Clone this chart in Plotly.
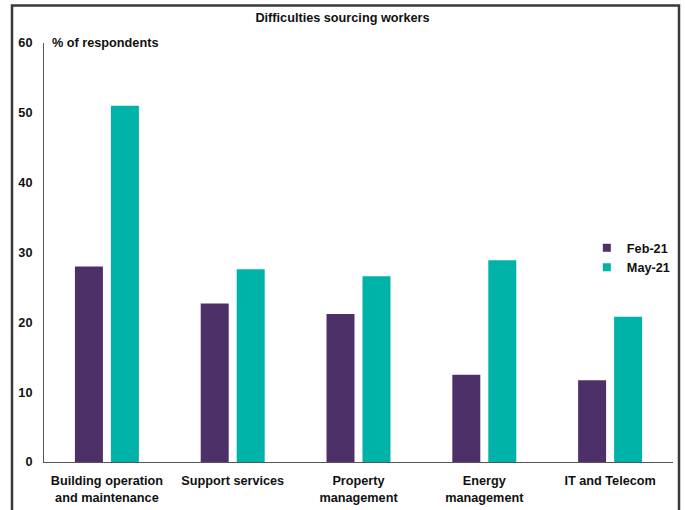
import plotly.graph_objects as go

categories = ["Building operation<br>and maintenance", "Support services",
              "Property<br>management", "Energy<br>management", "IT and Telecom"]
feb21 = [28.0, 22.7, 21.2, 12.5, 11.7]
may21 = [51.0, 27.6, 26.6, 28.9, 20.8]
series_names = ["Feb-21", "May-21"]
colors = ["#4E3068", "#00B3A9"]

FONT = "Liberation Sans, Arial, sans-serif"
FS = 12.7

fig = go.Figure()
for name, vals, col in zip(series_names, [feb21, may21], colors):
    fig.add_trace(go.Bar(x=categories, y=vals, name=name, marker_color=col,
                         marker_line_width=0, showlegend=False))
for name, col in zip(series_names, colors):
    fig.add_trace(go.Scatter(x=[None], y=[None], mode="markers", name=name,
                             marker=dict(symbol="square", size=8, color=col)))

fig.update_layout(
    width=685, height=510,
    margin=dict(l=44, r=12, t=43, b=48, autoexpand=False),
    paper_bgcolor="white", plot_bgcolor="white",
    font=dict(family=FONT, size=FS, color="#111111"),
    barmode="group", bargap=0.428, bargroupgap=0.222,
    title=dict(text="<b>Difficulties sourcing workers</b>", x=0.5, xanchor="center",
               y=1 - 18/510, yanchor="middle", font=dict(size=FS, family=FONT, color="#111111")),
    xaxis=dict(showline=True, linecolor="#555555", linewidth=1, ticks="", automargin=False,
               ticklabelstandoff=7,
               tickfont=dict(size=FS, family=FONT, color="#111111", weight="bold"),
               showgrid=False, zeroline=False),
    yaxis=dict(range=[0, 60], dtick=10, showline=True, linecolor="#555555", linewidth=1,
               ticks="", showgrid=False, zeroline=False, ticklabelstandoff=8, automargin=False,
               tickfont=dict(size=FS, family=FONT, color="#111111", weight="bold")),
    legend=dict(x=0.863, y=(462-233)/419, xanchor="left", yanchor="top",
                font=dict(size=FS, family=FONT, color="#111111", weight="bold"),
                bgcolor="rgba(0,0,0,0)", itemwidth=30, tracegroupgap=0),
    annotations=[dict(text="<b>% of respondents</b>", xref="paper", yref="paper",
                      x=(50-44)/629, y=1.0, xanchor="left", yanchor="middle",
                      showarrow=False, font=dict(size=FS, family=FONT, color="#111111"))],
    shapes=[dict(type="rect", xref="paper", yref="paper",
                 x0=(12-44)/629, x1=(679-44)/629, y0=(462-515)/419, y1=(462-5.5)/419,
                 line=dict(color="#3a3a3a", width=2.5), fillcolor="rgba(0,0,0,0)")],
)

fig.write_html("out.html", config={"displayModeBar": False},
               post_script="document.body.style.margin='0px';")
